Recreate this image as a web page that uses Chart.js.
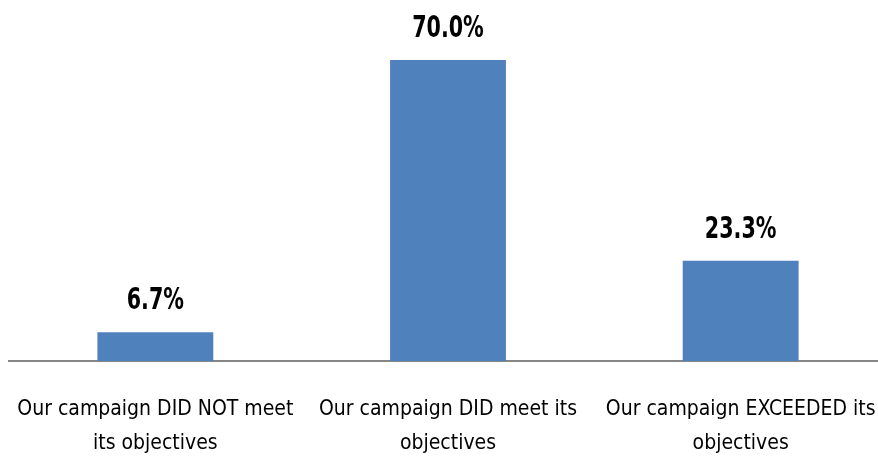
<!DOCTYPE html>
<html>
<head>
<meta charset="utf-8">
<script src="https://cdn.jsdelivr.net/npm/chart.js@4/dist/chart.umd.min.js"></script>
<style>
  html, body { margin: 0; padding: 0; background: #fff; overflow: hidden; }
  #wrap { width: 890px; height: 464px; }
</style>
</head>
<body>
<div id="wrap"><canvas id="campaignChart" width="890" height="464"></canvas></div>
<script>
// categories (two-line labels) and their shares in percent
const categories = [
  ['Our campaign DID NOT meet', 'its objectives'],
  ['Our campaign DID meet its', 'objectives'],
  ['Our campaign EXCEEDED its', 'objectives']
];
const shares = [6.7, 70.0, 23.3];
const yMin = 0;
const yMax = 80;

const fontFamily = '"Liberation Sans Narrow", "DejaVu Sans Condensed", "Roboto Condensed", sans-serif';

// writes the value above each bar, squeezed horizontally for a condensed look
const valueLabels = {
  id: 'valueLabels',
  afterDatasetsDraw(chart) {
    const ctx = chart.ctx;
    chart.getDatasetMeta(0).data.forEach((bar, i) => {
      ctx.save();
      ctx.translate(bar.x, bar.y - 23);
      ctx.scale(0.74, 1);
      ctx.font = 'bold 31px ' + fontFamily;
      ctx.fillStyle = '#000';
      ctx.textAlign = 'center';
      ctx.textBaseline = 'alphabetic';
      ctx.fillText(shares[i].toFixed(1) + '%', 0, 0);
      ctx.restore();
    });
  }
};

new Chart(document.getElementById('campaignChart').getContext('2d'), {
  type: 'bar',
  data: {
    labels: categories,
    datasets: [{
      data: shares,
      backgroundColor: '#4F81BD',
      borderWidth: 0,
      barPercentage: 1,
      categoryPercentage: 0.396
    }]
  },
  options: {
    responsive: false,
    animation: false,
    layout: { padding: { left: 9, top: 17, right: 3, bottom: 0 } },
    plugins: { legend: { display: false }, tooltip: { enabled: false } },
    scales: {
      x: {
        grid: { display: false, drawTicks: false },
        border: { display: true, color: '#868686', width: 2 },
        ticks: {
          color: '#000',
          padding: 32,
          maxRotation: 0,
          autoSkip: false,
          font: { family: fontFamily, size: 21, lineHeight: 1.62 }
        },
        afterFit(scale) {
          scale.height = 103;
          scale.paddingLeft = 0;
          scale.paddingRight = 0;
        }
      },
      y: {
        display: false,
        min: yMin,
        max: yMax
      }
    }
  },
  plugins: [valueLabels]
});
</script>
</body>
</html>
